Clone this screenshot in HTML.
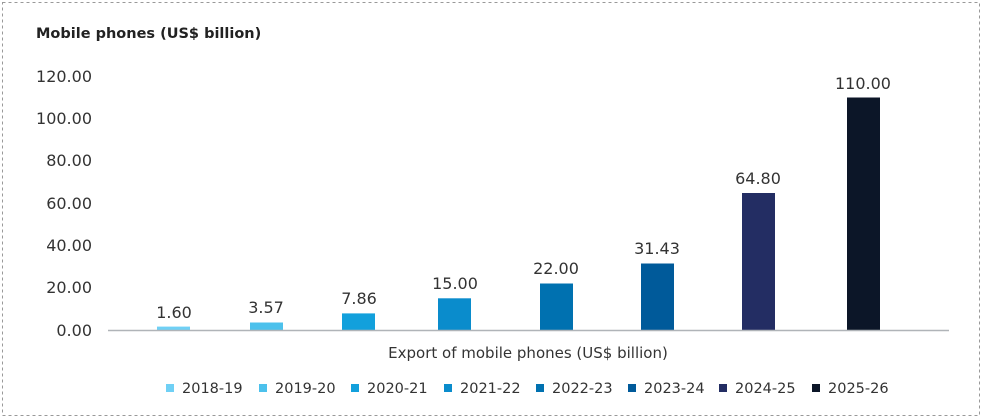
<!DOCTYPE html>
<html><head><meta charset="utf-8"><style>
html,body{margin:0;padding:0;background:#fff;}
svg{display:block;font-family:"DejaVu Sans","Liberation Sans",sans-serif;}
</style></head><body>
<svg width="983" height="420" viewBox="0 0 983 420" xmlns="http://www.w3.org/2000/svg">
<rect x="2.5" y="2.5" width="977" height="413" fill="none" stroke="#999" stroke-dasharray="3,3"/>
<text x="36" y="38" font-size="14.5" font-weight="bold" fill="#222">Mobile phones (US$ billion)</text>
<g font-size="16" fill="#333" text-anchor="end">
<text x="92" y="82">120.00</text>
<text x="92" y="124">100.00</text>
<text x="92" y="166">80.00</text>
<text x="92" y="209">60.00</text>
<text x="92" y="251">40.00</text>
<text x="92" y="293">20.00</text>
<text x="92" y="336">0.00</text>
</g>
<g>
<rect x="157" y="326.6" width="33" height="3.4" fill="#6fd0f5"/>
<rect x="250" y="322.5" width="33" height="7.5" fill="#4cc1ec"/>
<rect x="342" y="313.4" width="33" height="16.6" fill="#12a0dc"/>
<rect x="438" y="298.3" width="33" height="31.7" fill="#0a8ccc"/>
<rect x="540" y="283.5" width="33" height="46.5" fill="#0071b0"/>
<rect x="641" y="263.5" width="33" height="66.5" fill="#005a9a"/>
<rect x="742" y="193" width="33" height="137" fill="#232d63"/>
<rect x="847" y="97.5" width="33" height="232.5" fill="#0c1628"/>
</g>
<line x1="108" y1="330.5" x2="949" y2="330.5" stroke="#b0b4b8" stroke-width="1.5"/>
<g font-size="16" fill="#333" text-anchor="middle">
<text x="174" y="318">1.60</text>
<text x="266" y="313">3.57</text>
<text x="359" y="304">7.86</text>
<text x="455" y="289">15.00</text>
<text x="556" y="274">22.00</text>
<text x="657" y="254">31.43</text>
<text x="758" y="184">64.80</text>
<text x="863" y="89">110.00</text>
</g>
<text x="528" y="358" font-size="15" fill="#333" text-anchor="middle">Export of mobile phones (US$ billion)</text>
<g font-size="14.5" fill="#333">
<rect x="166" y="384" width="8" height="8" fill="#6fd0f5"/><text x="182" y="393">2018-19</text>
<rect x="259" y="384" width="8" height="8" fill="#4cc1ec"/><text x="275" y="393">2019-20</text>
<rect x="351" y="384" width="8" height="8" fill="#12a0dc"/><text x="367" y="393">2020-21</text>
<rect x="444" y="384" width="8" height="8" fill="#0a8ccc"/><text x="460" y="393">2021-22</text>
<rect x="536" y="384" width="8" height="8" fill="#0071b0"/><text x="552" y="393">2022-23</text>
<rect x="628" y="384" width="8" height="8" fill="#005a9a"/><text x="644" y="393">2023-24</text>
<rect x="719" y="384" width="8" height="8" fill="#232d63"/><text x="735" y="393">2024-25</text>
<rect x="812" y="384" width="8" height="8" fill="#0c1628"/><text x="828" y="393">2025-26</text>
</g>
</svg>
</body></html>
